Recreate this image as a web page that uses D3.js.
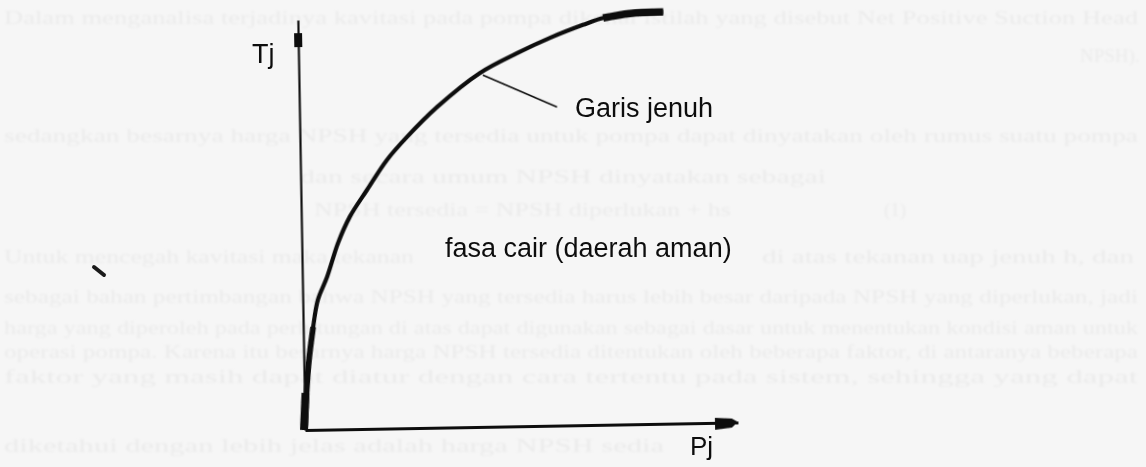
<!DOCTYPE html>
<html>
<head>
<meta charset="utf-8">
<script src="https://cdn.jsdelivr.net/npm/d3@7"></script>
<style>
  html, body { margin: 0; padding: 0; background: #f6f6f6; }
  svg { display: block; }
</style>
</head>
<body>
<svg id="fig" width="1146" height="467"></svg>
<script>
// Saturation line (garis jenuh): pressure Pj vs temperature Tj, relative units 0..100
const pj = [0, 0.5, 1.2, 2.3, 3.5, 5.7, 8.4, 11.2, 15.3, 20.0, 24.7, 31.8, 41.8, 50.5, 58.2, 65.8, 70.5, 76.7, 84.4];
const tj = [0, 9.0, 17.0, 25.1, 31.7, 37.2, 45.5, 51.8, 58.3, 65.5, 71.0, 78.2, 86.3, 91.0, 94.6, 97.6, 99.2, 100.2, 100.4];

// Axis titles and region labels
const axisTitleX = "Pj";
const axisTitleY = "Tj";
const curveLabel = "Garis jenuh";
const regionLabel = "fasa cair (daerah aman)";

// Leader from the curve to its label (Pj, Tj)
const leaderFrom = [42.5, 85.8];
const leaderTo = [59.5, 77.7];

// Faint text of the printed page behind the figure
const pageLines = [
  "Dalam menganalisa terjadinya kavitasi pada pompa dikenal istilah yang disebut Net Positive Suction Head",
  "NPSH).",
  "sedangkan besarnya harga NPSH yang tersedia untuk pompa dapat dinyatakan oleh rumus suatu pompa",
  "dan secara umum NPSH dinyatakan sebagai",
  "NPSH tersedia = NPSH diperlukan + hs",
  "(1)",
  "Untuk mencegah kavitasi maka tekanan",
  "di atas tekanan uap jenuh h, dan",
  "sebagai bahan pertimbangan bahwa NPSH yang tersedia harus lebih besar daripada NPSH yang diperlukan, jadi",
  "harga yang diperoleh pada perhitungan di atas dapat digunakan sebagai dasar untuk menentukan kondisi aman untuk",
  "operasi pompa. Karena itu besarnya harga NPSH tersedia ditentukan oleh beberapa faktor, di antaranya beberapa",
  "faktor yang masih dapat diatur dengan cara tertentu pada sistem, sehingga yang dapat",
  "diketahui dengan lebih jelas adalah harga NPSH sedia"
];

const svg = d3.select("#fig");
const W = 1146, H = 467;

svg.append("rect").attr("width", W).attr("height", H).attr("fill", "#f6f6f6");

const defs = svg.append("defs");
defs.append("filter").attr("id", "soft")
  .append("feGaussianBlur").attr("stdDeviation", 0.8);
defs.append("filter").attr("id", "ink")
  .append("feGaussianBlur").attr("stdDeviation", 0.35);

// Page text, barely visible
const pageRows = [
  {y: 24, x: 4, len: 1134},
  {y: 62, x: 1080},
  {y: 142, x: 4, len: 1134},
  {y: 183, x: 300, len: 526},
  {y: 216, x: 314, len: 417},
  {y: 216, x: 884},
  {y: 263, x: 4, len: 410},
  {y: 263, x: 762, len: 372},
  {y: 303, x: 4, len: 1134},
  {y: 334, x: 4, len: 1134},
  {y: 358, x: 4, len: 1134},
  {y: 383, x: 4, len: 1134},
  {y: 452, x: 4, len: 660}
];
const page = svg.append("g").attr("filter", "url(#soft)")
  .attr("font-family", "'Liberation Serif', 'DejaVu Serif', serif")
  .attr("font-size", 19).attr("fill", "#ebebeb");
pageRows.forEach((r, i) => {
  const t = page.append("text").attr("x", r.x).attr("y", r.y).text(pageLines[i]);
  if (r.len) t.attr("textLength", r.len).attr("lengthAdjust", "spacingAndGlyphs");
});

// Plot frame: origin at the lower-left corner, drawn with a slight tilt
const x0 = 305, y0 = 430;
const x = d3.scaleLinear().domain([0, 100]).range([x0, x0 + 433]);
const y = d3.scaleLinear().domain([0, 100]).range([y0, y0 - 410]);

const plot = svg.append("g")
  .attr("transform", `rotate(-1, ${x0}, ${y0})`)
  .attr("filter", "url(#ink)");

// Axes without ticks
const yAxis = plot.append("g").attr("transform", `translate(${x0},0)`)
  .call(d3.axisLeft(y).tickValues([]).tickSizeOuter(0));
yAxis.select(".domain").attr("stroke", "#111").attr("stroke-width", 2.2);

const xAxis = plot.append("g").attr("transform", `translate(0,${y0})`)
  .call(d3.axisBottom(x).tickValues([]).tickSizeOuter(0));
xAxis.select(".domain").attr("stroke", "#111").attr("stroke-width", 3);

// Arrow marks at the axis ends
plot.append("rect")
  .attr("x", x(0) - 4).attr("width", 8)
  .attr("y", y(96.8)).attr("height", y(93.4) - y(96.8))
  .attr("fill", "#111");
plot.append("path")
  .attr("d", [
    [x(94.7), y0 - 5], [x(98.6), y0 - 4], [x(100), y0 - 0.5],
    [x(98.6), y0 + 5], [x(94.7), y0 + 7]
  ].map((p, i) => (i ? "L" : "M") + p[0] + "," + p[1]).join("") + "Z")
  .attr("fill", "#111");

// Saturation curve
const pts = pj.map((p, i) => [p, tj[i]]);
const line = d3.line().x(d => x(d[0])).y(d => y(d[1])).curve(d3.curveCatmullRom.alpha(0.5));

plot.append("path").datum(pts).attr("d", line)
  .attr("fill", "none").attr("stroke", "#111").attr("stroke-width", 4.2)
  .attr("stroke-linecap", "butt");

// heavier ink near the origin and at the far end of the curve
plot.append("path").datum(pts.filter(d => d[1] <= 26)).attr("d", line)
  .attr("fill", "none").attr("stroke", "#111").attr("stroke-width", 5.8);
plot.append("path").datum(pts.filter(d => d[1] <= 10)).attr("d", line)
  .attr("fill", "none").attr("stroke", "#111").attr("stroke-width", 8)
  .attr("transform", "translate(-1,0)");
plot.append("path").datum(pts.filter(d => d[0] >= 70.5)).attr("d", line)
  .attr("fill", "none").attr("stroke", "#111").attr("stroke-width", 7.5);

// Leader line to the curve label
plot.append("line")
  .attr("x1", x(leaderFrom[0])).attr("y1", y(leaderFrom[1]))
  .attr("x2", x(leaderTo[0])).attr("y2", y(leaderTo[1]))
  .attr("stroke", "#111").attr("stroke-width", 1.6);

// Labels
const labels = svg.append("g")
  .attr("font-family", "'Liberation Sans', Arial, sans-serif")
  .attr("fill", "#111").attr("filter", "url(#ink)");
labels.append("text").attr("x", 252).attr("y", 63).attr("font-size", 27).text(axisTitleY);
labels.append("text").attr("x", 690).attr("y", 455).attr("font-size", 26).text(axisTitleX);
labels.append("text").attr("x", 575).attr("y", 117).attr("font-size", 27).text(curveLabel);
labels.append("text").attr("x", 445).attr("y", 257).attr("font-size", 27).text(regionLabel);

// Stray pen mark on the left margin
svg.append("line")
  .attr("x1", 94).attr("y1", 267).attr("x2", 104).attr("y2", 275)
  .attr("stroke", "#1a1a1a").attr("stroke-width", 4).attr("stroke-linecap", "round");
</script>
</body>
</html>
